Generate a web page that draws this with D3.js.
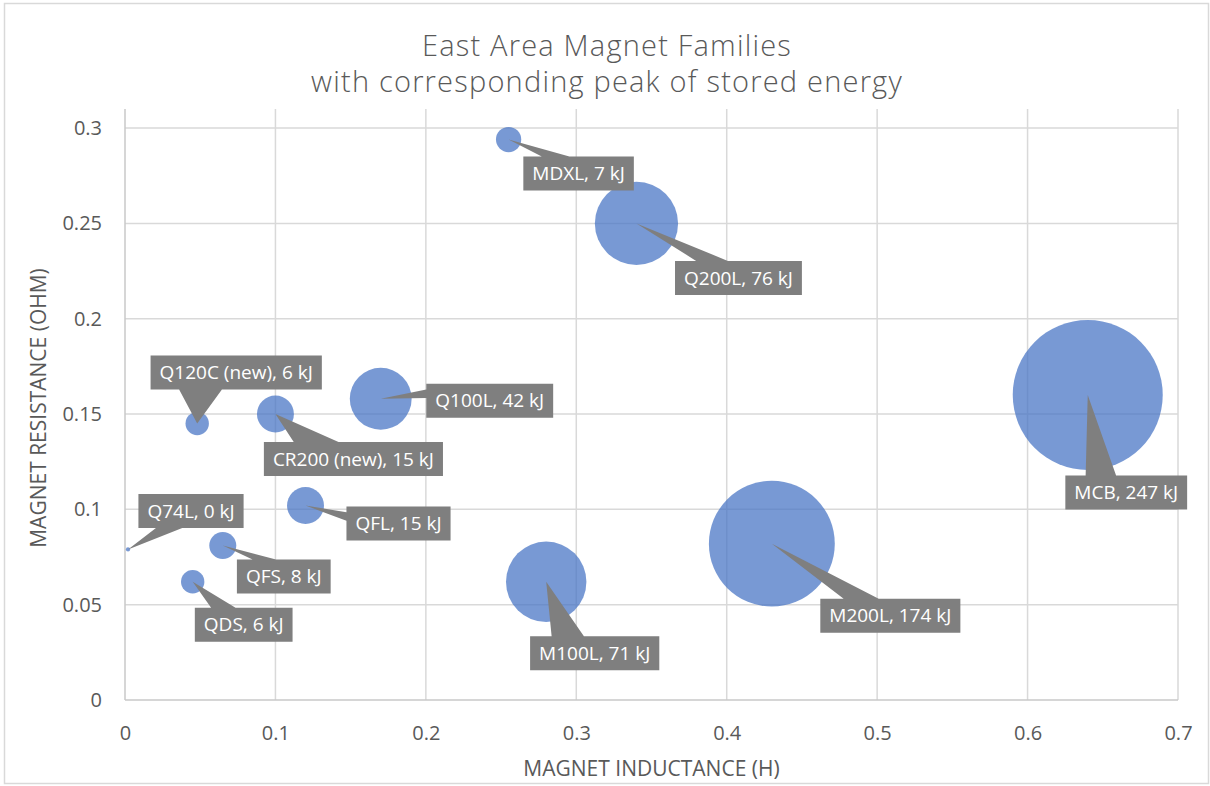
<!DOCTYPE html>
<html>
<head>
<meta charset="utf-8">
<script src="https://cdn.jsdelivr.net/npm/d3@7/dist/d3.min.js"></script>
<style>
    body { margin: 0; background: #fff; }
    svg { font-family: "Open Sans", "Noto Sans", sans-serif; }
</style>
</head>
<body>
<div id="chart"></div>
<script>
// magnet families: inductance (H), resistance (ohm), peak stored energy (kJ)
const families = ['MDXL', 'Q200L', 'Q120C (new)', 'CR200 (new)', 'Q100L', 'QFL',
    'Q74L', 'QFS', 'QDS', 'M100L', 'M200L', 'MCB'];
const inductance = [0.255, 0.34, 0.048, 0.1, 0.17, 0.12, 0.002, 0.065, 0.045, 0.28, 0.43, 0.64];
const resistance = [0.294, 0.25, 0.145, 0.15, 0.158, 0.102, 0.079, 0.081, 0.062, 0.062, 0.082, 0.16];
const energy = [7, 76, 6, 15, 42, 15, 0.2, 8, 6, 71, 174, 247];

const xTicks = [0, 0.1, 0.2, 0.3, 0.4, 0.5, 0.6, 0.7];
const yTicks = [0, 0.05, 0.1, 0.15, 0.2, 0.25, 0.3];

const titleLines = ['East Area Magnet Families', 'with corresponding peak of stored energy'];
const xTitle = 'MAGNET INDUCTANCE (H)';
const yTitle = 'MAGNET RESISTANCE (OHM)';

// where each callout box sits, relative to its bubble centre (px)
const calloutOffset = {
    'MDXL': [70, 34],
    'Q200L': [102, 54.5],
    'Q120C (new)': [39, -51],
    'CR200 (new)': [78, 45],
    'Q100L': [109, 2],
    'QFL': [93, 18],
    'Q74L': [63, -38.5],
    'QFS': [61, 31],
    'QDS': [51, 43],
    'M100L': [48.5, 71.5],
    'M200L': [118.5, 72],
    'MCB': [38.5, 97.5]
};

const width = 1210, height = 786;
const plot = { left: 125, right: 1178, top: 109, bottom: 700 };
const textColor = '#595959';
const gridColor = '#d9d9d9';

const svg = d3.select('#chart')
    .append('svg')
    .attr('width', width)
    .attr('height', height);

svg.append('rect')
    .attr('x', 4.5).attr('y', 3.5)
    .attr('width', 1204).attr('height', 780)
    .attr('fill', '#fff')
    .attr('stroke', gridColor)
    .attr('stroke-width', 1.5);

const x = d3.scaleLinear().domain([0, 0.7]).range([plot.left, plot.right]);
const y = d3.scaleLinear().domain([0, 0.31]).range([plot.bottom, plot.top]);
const r = d3.scaleSqrt().domain([0, 247]).range([0, 75]);

/* title */
svg.append('text')
    .attr('fill', textColor)
    .attr('font-size', 29)
    .attr('font-weight', 300)
    .attr('letter-spacing', 1.2)
    .attr('text-anchor', 'middle')
    .selectAll('tspan')
    .data(titleLines)
    .join('tspan')
    .attr('x', 607)
    .attr('y', (d, i) => 56 + i * 36)
    .text(d => d);

/* grid */
const grid = svg.append('g').attr('class', 'grid');
grid.selectAll('.hgrid')
    .data(yTicks.filter(d => d > 0))
    .join('line')
    .attr('x1', plot.left).attr('x2', plot.right)
    .attr('y1', d => y(d)).attr('y2', d => y(d))
    .attr('stroke', gridColor).attr('stroke-width', 1.5);
grid.selectAll('.vgrid')
    .data(xTicks.filter(d => d > 0))
    .join('line')
    .attr('x1', d => x(d)).attr('x2', d => x(d))
    .attr('y1', plot.top).attr('y2', plot.bottom)
    .attr('stroke', gridColor).attr('stroke-width', 1.5);

/* axes */
const xAxis = svg.append('g')
    .attr('transform', `translate(0,${plot.bottom})`)
    .call(d3.axisBottom(x).tickValues(xTicks).tickSize(0).tickPadding(26).tickFormat(d3.format('')));
const yAxis = svg.append('g')
    .attr('transform', `translate(${plot.left},0)`)
    .call(d3.axisLeft(y).tickValues(yTicks).tickSize(0).tickPadding(23).tickFormat(d3.format('')));

[xAxis, yAxis].forEach((a) => {
    a.select('.domain').attr('stroke', '#c8c8c8').attr('stroke-width', 1.5);
    a.selectAll('text')
        .attr('fill', textColor)
        .attr('font-size', 20)
        .attr('font-family', '"Open Sans", "Noto Sans", sans-serif');
});
yAxis.select('.domain').attr('d', `M0,${plot.top}V${plot.bottom}`);
xAxis.select('.domain').attr('d', `M${plot.left},0H${plot.right}`);

svg.append('text')
    .attr('x', (plot.left + plot.right) / 2)
    .attr('y', 776)
    .attr('text-anchor', 'middle')
    .attr('fill', textColor)
    .attr('font-size', 21)
    .text(xTitle);

svg.append('text')
    .attr('transform', `translate(46,${408}) rotate(-90)`)
    .attr('text-anchor', 'middle')
    .attr('fill', textColor)
    .attr('font-size', 21)
    .text(yTitle);

/* bubbles */
const points = families.map((name, i) => ({
    name: name,
    x: inductance[i],
    y: resistance[i],
    e: energy[i]
}));

svg.append('g')
    .attr('class', 'bubbles')
    .selectAll('circle')
    .data(points)
    .join('circle')
    .attr('cx', d => x(d.x))
    .attr('cy', d => y(d.y))
    .attr('r', d => r(d.e))
    .attr('fill', '#4472c4')
    .attr('fill-opacity', 0.72);

/* callouts: rectangle with a wedge to the bubble centre */
function calloutPath(l, t, w, h, px, py) {
    const rr = l + w, b = t + h;
    const dx = px - (l + w / 2), dy = py - (t + h / 2);
    const dq = dx * h / w;
    if (Math.abs(dy) > Math.abs(dq)) {
        const x1 = l + w * (dx > 0 ? 7 : 2) / 12;
        const x2 = l + w * (dx > 0 ? 10 : 5) / 12;
        if (dy < 0) {
            return `M${l},${t}L${x1},${t}L${px},${py}L${x2},${t}L${rr},${t}L${rr},${b}L${l},${b}Z`;
        }
        return `M${l},${t}L${rr},${t}L${rr},${b}L${x2},${b}L${px},${py}L${x1},${b}L${l},${b}Z`;
    }
    const y1 = t + h * (dy > 0 ? 7 : 2) / 12;
    const y2 = t + h * (dy > 0 ? 10 : 5) / 12;
    if (dx < 0) {
        return `M${l},${t}L${rr},${t}L${rr},${b}L${l},${b}L${l},${y2}L${px},${py}L${l},${y1}Z`;
    }
    return `M${l},${t}L${rr},${t}L${rr},${y1}L${px},${py}L${rr},${y2}L${rr},${b}L${l},${b}Z`;
}

const labelFmt = d3.format('.0f');
const callouts = svg.append('g')
    .attr('class', 'callouts')
    .selectAll('g')
    .data(points)
    .join('g');

callouts.each(function (d) {
    const g = d3.select(this);
    const px = x(d.x), py = y(d.y);
    const off = calloutOffset[d.name];
    const cx = px + off[0], cy = py + off[1];
    const shape = g.append('path').attr('fill', '#7f7f7f');
    const label = g.append('text')
        .attr('x', cx)
        .attr('y', cy)
        .attr('dy', '0.35em')
        .attr('text-anchor', 'middle')
        .attr('fill', '#fff')
        .attr('font-size', 19)
        .text(`${d.name}, ${labelFmt(d.e)} kJ`);
    const w = label.node().getComputedTextLength() + 18;
    const h = 34;
    shape.attr('d', calloutPath(cx - w / 2, cy - h / 2, w, h, px, py));
});
</script>
</body>
</html>
